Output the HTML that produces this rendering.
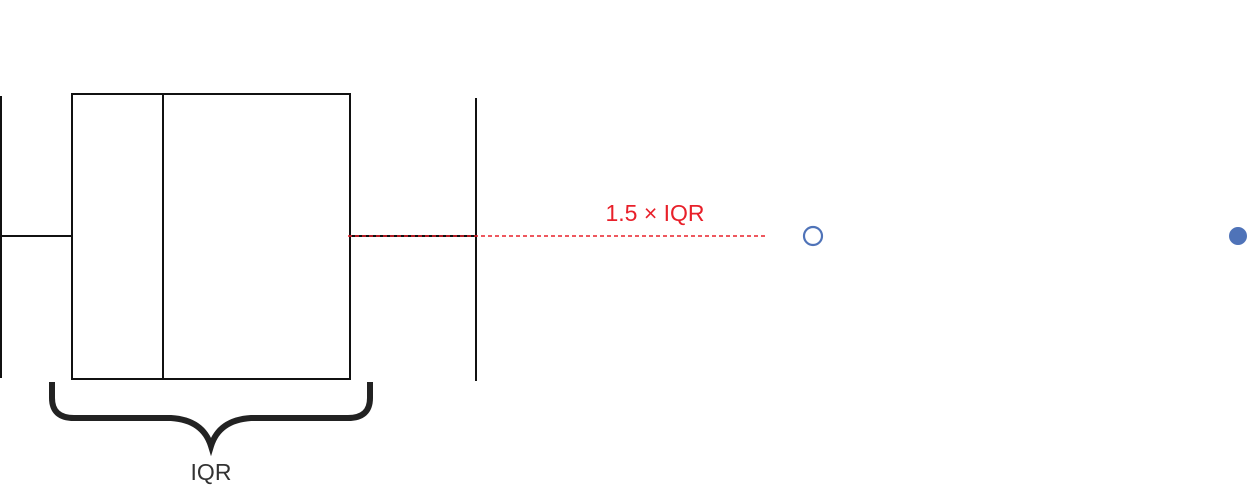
<!DOCTYPE html>
<html><head><meta charset="utf-8"><style>
html,body{margin:0;padding:0;background:#fff;}
svg{display:block;font-family:"Liberation Sans",sans-serif;}
</style></head><body>
<svg id="chart" width="1250" height="488" viewBox="0 0 1250 488"></svg>
<script>
const statNames = ["min","q1","median","q3","max"];
const statValues = [0.08, 5.76, 13.04, 28.0, 38.08];
const outlierValues = [65.04, 99.04];
const outlierFilled = [false, true];
const svg = document.getElementById('chart');
const NS = 'http://www.w3.org/2000/svg';
function x(v){ return v * 12.5; }
const yTop = 94, yBot = 379, yMid = 236;
function mk(tag, attrs, parent){ const e=document.createElementNS(NS,tag); for(const k in attrs) e.setAttribute(k,attrs[k]); (parent||svg).appendChild(e); return e; }
const [vmin,q1,med,q3,vmax] = statValues;
const iqr = q3 - q1;
const fence = q3 + 1.5*iqr;

let e;
e = mk('line',{x1:x(vmin)-1,y1:yMid,x2:x(q1),y2:yMid,stroke:'#111','stroke-width':2});


e = mk('line',{x1:x(vmin),y1:yTop+2,x2:x(vmin),y2:yBot-1,stroke:'#111','stroke-width':2});


e = mk('rect',{x:x(q1),y:yTop,width:x(q3)-x(q1),height:yBot-yTop,fill:'none',stroke:'#111','stroke-width':2});


e = mk('line',{x1:x(med),y1:yTop,x2:x(med),y2:yBot,stroke:'#111','stroke-width':2});


e = mk('line',{x1:x(q3),y1:yMid,x2:x(vmax),y2:yMid,stroke:'#111','stroke-width':2});


e = mk('line',{x1:x(vmax),y1:98,x2:x(vmax),y2:381,stroke:'#111','stroke-width':2});


e = mk('line',{x1:x(q3)-2,y1:yMid,x2:x(fence),y2:yMid,stroke:'#e8202a','stroke-width':1.6,'stroke-dasharray':'4 3'});


e = mk('text',{x:x(fence)-112,y:221,'text-anchor':'middle','font-size':23,fill:'#e8202a'});
e.textContent='1.5 × IQR';


outlierValues.forEach((v,i)=>{
  const c = mk('circle',{cx:x(v),cy:yMid,r:outlierFilled[i]?8.5:9,fill:outlierFilled[i]?'#4f73b8':'#fff',stroke:'#4f73b8','stroke-width':outlierFilled[i]?1:2.2});
  
  
});
const bl = x(q1)-20, br = x(q3)+20, bc = (bl+br)/2;
e = mk('path',{d:`M${bl},382 L${bl},398 Q${bl},418 ${bl+22},418 L${bc-40},418 Q${bc-8},420 ${bc},446 Q${bc+8},420 ${bc+40},418 L${br-22},418 Q${br},418 ${br},398 L${br},382`,fill:'none',stroke:'#222','stroke-width':6});


e = mk('text',{x:bc,y:480,'text-anchor':'middle','font-size':23,fill:'#333'});
e.textContent='IQR';


</script>
</body></html>
